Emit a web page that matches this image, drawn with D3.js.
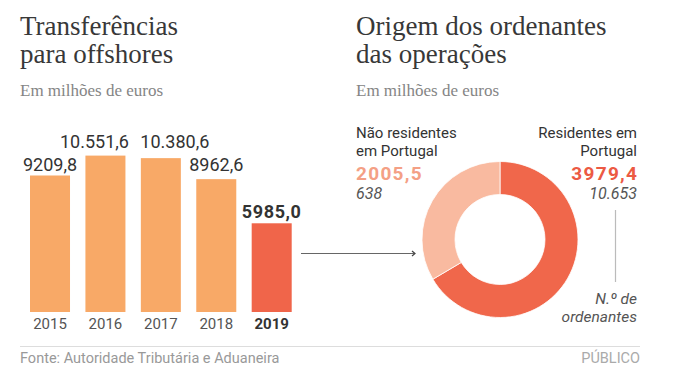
<!DOCTYPE html>
<html><head><meta charset="utf-8">
<script src="https://cdn.jsdelivr.net/npm/d3@7/dist/d3.min.js"></script>
<style>
body{margin:0;background:#fff;}
svg{display:block;}
</style></head>
<body>
<svg id="c" width="691" height="383"></svg>
<script>
// ---- data ----
const years = ["2015","2016","2017","2018","2019"];
const transfers = [9209.8, 10551.6, 10380.6, 8962.6, 5985.0];
const transferLabels = ["9209,8","10.551,6","10.380,6","8962,6","5985,0"];
const originNames = ["Residentes em Portugal","Não residentes em Portugal"];
const originValues = [3979.4, 2005.5];
const originValueLabels = ["3979,4","2005,5"];
const originCounts = ["10.653","638"];

const svg = d3.select("#c");
const sans = "Roboto, 'Liberation Sans', sans-serif";
const serif = "'Liberation Serif', 'DejaVu Serif', serif";

// ---- titles ----
function title(x, lines){
  lines.forEach((t,i)=>svg.append("text").attr("x",x).attr("y",35+i*28)
    .attr("font-family",serif).attr("font-size",27).attr("fill","#383838").text(t));
}
title(20,["Transferências","para offshores"]);
title(356,["Origem dos ordenantes","das operações"]);
[20,356].forEach(x=>svg.append("text").attr("x",x).attr("y",96)
  .attr("font-family",serif).attr("font-size",17).attr("fill","#858585").text("Em milhões de euros"));

// ---- bars ----
const x = d3.scaleBand().domain(years).range([30,291.7]).paddingInner(0.278).paddingOuter(0);
const y = d3.scaleLinear().domain([0,10551.6]).range([312,155.6]);
const last = years.length-1;
const barColor = (d,i)=> i===last ? "#F0654A" : "#F8A967";

svg.append("g").selectAll("rect").data(transfers).join("rect")
  .attr("x",(d,i)=>x(years[i])).attr("width",x.bandwidth())
  .attr("y",d=>y(d)).attr("height",d=>y(0)-y(d)).attr("fill",barColor);

const labelOffsets = [[0,-4],[-11,-8],[14,-10],[0,-8],[0,-5]];
svg.append("g").selectAll("text").data(transfers).join("text")
  .attr("x",(d,i)=>x(years[i])+x.bandwidth()/2+labelOffsets[i][0])
  .attr("y",(d,i)=>y(d)+labelOffsets[i][1])
  .attr("text-anchor","middle").attr("font-family",sans).attr("font-size",18)
  .attr("font-weight",(d,i)=>i===last?"bold":"normal")
  .attr("letter-spacing",(d,i)=>i===last?0.6:0)
  .attr("fill","#333").text((d,i)=>transferLabels[i]);

const ax = svg.append("g").attr("transform","translate(0,312)")
  .call(d3.axisBottom(x).tickSize(0).tickPadding(6));
ax.select(".domain").remove();
ax.selectAll("text").attr("font-family",sans).attr("font-size",15)
  .attr("font-weight",d=>d===years[last]?"bold":"normal")
  .attr("fill",d=>d===years[last]?"#333":"#555");

// ---- arrow ----
svg.append("line").attr("x1",301).attr("x2",415).attr("y1",253.5).attr("y2",253.5)
  .attr("stroke","#666").attr("stroke-width",1);
svg.append("path").attr("d","M412,251 L415,253.5 L412,256")
  .attr("fill","none").attr("stroke","#444").attr("stroke-width",1.2);

// ---- donut ----
const cx = 500, cy = 239.5;
const pie = d3.pie().sort(null)(originValues);
const arc = d3.arc().innerRadius(45).outerRadius(78);
const donutColors = ["#F0674B","#F9BAA0"];
svg.append("g").attr("transform",`translate(${cx},${cy})`)
  .selectAll("path").data(pie).join("path")
  .attr("d",arc).attr("fill",(d,i)=>donutColors[i]).attr("stroke","#fff").attr("stroke-width",0.8);

// ---- donut labels ----
function lbl(xp,yp,t,opt){
  const e = svg.append("text").attr("x",xp).attr("y",yp).attr("font-family",sans)
    .attr("font-size",opt.size||15).attr("fill",opt.fill||"#333")
    .attr("text-anchor",opt.anchor||"start").text(t);
  if(opt.bold) e.attr("font-weight","bold");
  if(opt.italic) e.attr("font-style","italic");
  if(opt.ls) e.attr("letter-spacing",opt.ls);
  return e;
}
// left: Não residentes
lbl(356,138,"Não residentes",{});
lbl(356,156,"em Portugal",{});
lbl(356,180,originValueLabels[1],{size:19,bold:true,fill:"#F4A085",ls:1.3});
lbl(356,199,originCounts[1],{size:16,italic:true,fill:"#555"});
// right: Residentes
lbl(637,138,"Residentes em",{anchor:"end"});
lbl(637,156,"Portugal",{anchor:"end"});
lbl(638.3,180,originValueLabels[0],{size:19,bold:true,fill:"#EC5A43",anchor:"end",ls:1.3});
lbl(637,199,originCounts[0],{size:16,italic:true,fill:"#555",anchor:"end"});

svg.append("line").attr("x1",615.5).attr("x2",615.5).attr("y1",210).attr("y2",282)
  .attr("stroke","#bbb").attr("stroke-width",1.2);
lbl(637,304,"N.º de",{anchor:"end",italic:true,fill:"#555",size:15.5});
lbl(637,322,"ordenantes",{anchor:"end",italic:true,fill:"#555",size:15.5});

// ---- footer ----
svg.append("line").attr("x1",20).attr("x2",640).attr("y1",346.5).attr("y2",346.5)
  .attr("stroke","#ddd").attr("stroke-width",1);
lbl(20,363,"Fonte: Autoridade Tributária e Aduaneira",{size:14.5,fill:"#999"});
lbl(640,363,"PÚBLICO",{size:14.5,fill:"#aaa",anchor:"end"});
</script>
</body></html>
